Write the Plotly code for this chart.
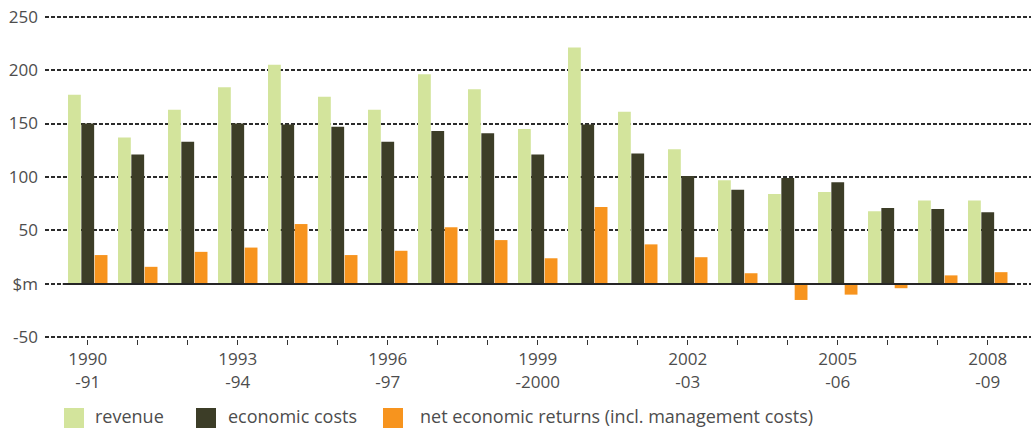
import plotly.graph_objects as go

years = ["1990-91", "1991-92", "1992-93", "1993-94", "1994-95", "1995-96", "1996-97",
         "1997-98", "1998-99", "1999-2000", "2000-01", "2001-02", "2002-03", "2003-04",
         "2004-05", "2005-06", "2006-07", "2007-08", "2008-09"]
revenue = [177, 137, 163, 184, 205, 175, 163, 196, 182, 145, 221, 161, 126, 97, 84, 86, 68, 78, 78]
economic_costs = [150, 121, 133, 150, 149, 147, 133, 143, 141, 121, 149, 122, 101, 88, 99, 95, 71, 70, 67]
net_returns = [27, 16, 30, 34, 56, 27, 31, 53, 41, 24, 72, 37, 25, 10, -15, -10, -4, 8, 11]
tick_labels = ["1990<br>-91", "", "", "1993<br>-94", "", "", "1996<br>-97", "", "",
               "1999<br>-2000", "", "", "2002<br>-03", "", "", "2005<br>-06", "", "",
               "2008<br>-09"]
y_ticks = [-50, 0, 50, 100, 150, 200, 250]
y_tick_labels = ["-50", "$m", "50", "100", "150", "200", "250"]
series_names = ["revenue", "economic costs", "net economic returns (incl. management costs)"]
colors = ["#D3E49C", "#3C3D27", "#F7941E"]

W, H = 1031, 428
ML, MR, MT, MB = 45, 0, 15, 89
PW, PH = W - ML - MR, H - MT - MB
FONT = "Open Sans"
TXT = "#4d4d4d"

xs = list(range(len(years)))
fig = go.Figure()
for name, vals, col in zip(series_names, [revenue, economic_costs, net_returns], colors):
    fig.add_trace(go.Bar(x=xs, y=vals, name=name, marker=dict(color=col, line=dict(width=0)),
                         hovertext=years))

# zero baseline
fig.add_shape(type="line", xref="x", yref="y", x0=-0.5, x1=len(years) - 0.5, y0=0, y1=0,
              line=dict(color="#262626", width=2), layer="above")

def px_x(p):
    return (p - ML) / PW

def px_y(p):
    return (H - MB - p) / PH

# manual legend (large square swatches)
legend_sq = [64, 196, 383]
legend_txt = [93, 226, 418]
for name, col, sx, tx in zip(series_names, colors, legend_sq, legend_txt):
    fig.add_shape(type="rect", xref="paper", yref="paper",
                  x0=px_x(sx), x1=px_x(sx + 20), y0=px_y(428), y1=px_y(408),
                  fillcolor=col, line=dict(width=0))
    fig.add_annotation(xref="paper", yref="paper", x=px_x(tx), y=px_y(416),
                       xanchor="left", yanchor="middle", showarrow=False, text=name,
                       font=dict(family=FONT, size=18, color=TXT))

fig.update_layout(
    width=W, height=H,
    margin=dict(l=ML, r=MR, t=MT, b=MB),
    paper_bgcolor="white", plot_bgcolor="white",
    barmode="group", bargap=0.2, bargroupgap=0.04,
    showlegend=False,
    font=dict(family=FONT, size=17, color=TXT),
)
fig.update_xaxes(range=[-0.855, 18.865], tickvals=xs, ticktext=tick_labels,
                 ticks="outside", ticklen=5, tickcolor="#333", tickwidth=1,
                 showgrid=False, zeroline=False, showline=False,
                 tickfont=dict(family=FONT, size=17, color=TXT))
fig.update_yaxes(range=[-51.5, 251.5], tickvals=y_ticks, ticktext=y_tick_labels,
                 showgrid=True, gridcolor="#2b2b2b", gridwidth=2, griddash="4px,2px",
                 zeroline=False, showline=False, ticks="", ticklabelstandoff=6,
                 tickfont=dict(family=FONT, size=17, color=TXT))

fig.write_html("out.html", config={"displayModeBar": False},
               post_script="document.body.style.margin='0';document.body.style.overflow='hidden';")
